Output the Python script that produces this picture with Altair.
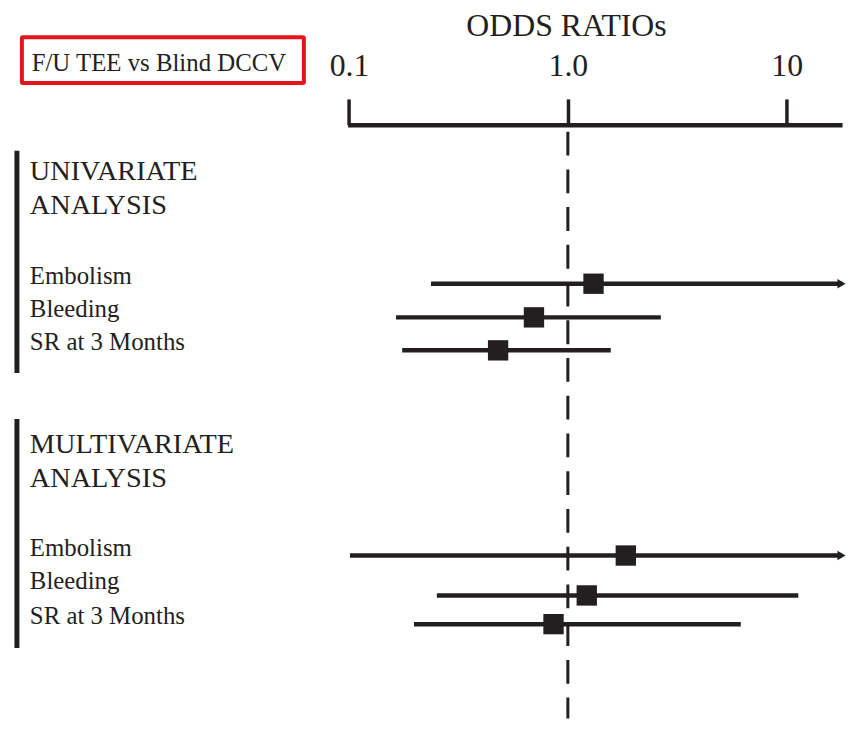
import altair as alt
import pandas as pd

# ---------------- data ----------------
outcomes = ["Embolism", "Bleeding", "SR at 3 Months", "Embolism", "Bleeding", "SR at 3 Months"]
analysis = ["Univariate"] * 3 + ["Multivariate"] * 3
odds = [1.31, 0.70, 0.48, 1.84, 1.22, 0.86]
lower = [0.237, 0.164, 0.175, 0.101, 0.252, 0.198]
upper = [17.8, 2.66, 1.57, 17.8, 11.3, 6.17]
open_upper = [True, False, False, True, False, False]
ci_rows = [4.82, 5.84, 6.84, 13.06, 14.27, 15.14]
label_rows = [4.82, 5.84, 6.84, 13.06, 14.06, 15.14]

headers = ["UNIVARIATE", "ANALYSIS", "MULTIVARIATE", "ANALYSIS"]
header_rows = [1.69, 2.70, 9.94, 10.97]
bar_start = [0.79, 8.92]
bar_end = [7.53, 15.86]

tick_values = [0.1, 1.0, 10.0]
ref_value = [1.0]
ref_span = [0.21, 18.0]
box_text = "F/U TEE vs Blind DCCV"
axis_title = "ODDS RATIOs"

# ---------------- styling ----------------
INK = "#231f20"
FONT = "Liberation Serif"
x_scale = alt.Scale(type="log", domain=[0.0985, 17.9], nice=False)
y_scale = alt.Scale(domain=[0, 18], reverse=True, nice=False, zero=False)

ci = pd.DataFrame({
    "outcome": outcomes, "analysis": analysis, "odds": odds,
    "lower": lower, "upper": upper, "open": open_upper,
    "row": ci_rows, "label_row": label_rows,
})
hdr = pd.DataFrame({"text": headers, "row": header_rows})
bars = pd.DataFrame({"start": bar_start, "end": bar_end})
ref = pd.DataFrame({"x": ref_value, "y": [ref_span[0]], "y2": [ref_span[1]]})
one = pd.DataFrame({"a": [0]})

x_axis = alt.Axis(
    orient="top", values=tick_values, title=axis_title,
    labelExpr="datum.value == 1 ? '1.0' : datum.label",
    labelFont=FONT, labelFontSize=32, labelColor=INK, labelPadding=24,
    labelBaseline="alphabetic",
    labelFlush=False, labelOverlap=False,
    tickSize=26, tickWidth=3.5, tickColor=INK,
    domainWidth=4.5, domainColor=INK,
    grid=False,
    titleFont=FONT, titleFontSize=32, titleFontWeight="normal", titleColor=INK,
    titleX=220, titleY=-90, titleAlign="center", titleBaseline="alphabetic",
)


def X(field):
    return alt.X(field, scale=x_scale, axis=x_axis, title=axis_title)


refline = alt.Chart(ref).mark_rule(color=INK, strokeWidth=3, strokeDash=[24, 14]).encode(
    x=X("x:Q"),
    y=alt.Y("y:Q", scale=y_scale, axis=None),
    y2="y2:Q",
)

ci_lines = alt.Chart(ci).mark_rule(color=INK, strokeWidth=4.5).encode(
    x=X("lower:Q"),
    x2="upper:Q",
    y=alt.Y("row:Q", scale=y_scale, axis=None),
)

arrows = alt.Chart(ci).transform_filter("datum.open").mark_point(
    shape="triangle-right", filled=True, color=INK, size=90, opacity=1
).encode(
    x=X("upper:Q"),
    y=alt.Y("row:Q", scale=y_scale, axis=None),
)

squares = alt.Chart(ci).mark_square(size=420, color=INK, opacity=1).encode(
    x=X("odds:Q"),
    y=alt.Y("row:Q", scale=y_scale, axis=None),
)

item_text = alt.Chart(ci).mark_text(
    align="left", baseline="alphabetic", font=FONT, fontSize=25, color=INK
).encode(
    x=alt.value(-320),
    y=alt.Y("label_row:Q", scale=y_scale, axis=None),
    text="outcome:N",
)

header_text = alt.Chart(hdr).mark_text(
    align="left", baseline="alphabetic", font=FONT, fontSize=28.5, color=INK
).encode(
    x=alt.value(-320),
    y=alt.Y("row:Q", scale=y_scale, axis=None),
    text="text:N",
)

side_bars = alt.Chart(bars).mark_rule(color=INK, strokeWidth=5).encode(
    x=alt.value(-333),
    y=alt.Y("start:Q", scale=y_scale, axis=None),
    y2="end:Q",
)

box = alt.Chart(one).mark_rect(
    fillOpacity=0, stroke="#e3141b", strokeWidth=4, cornerRadius=1
).encode(
    x=alt.value(-328), x2=alt.value(-44), y=alt.value(-88), y2=alt.value(-42)
)

box_label = alt.Chart(one).mark_text(
    align="center", baseline="alphabetic", font=FONT, fontSize=25, color=INK
).encode(
    x=alt.value(-190), y=alt.value(-54), text=alt.value(box_text)
)

chart = alt.layer(
    refline, ci_lines, arrows, squares, item_text, header_text, side_bars, box, box_label
).properties(
    width=498, height=598,
    autosize=alt.AutoSizeParams(type="none"),
    padding={"left": 342, "top": 115, "right": 6, "bottom": 4},
    background="white",
).configure_view(stroke=None)

chart.save("out.html", embed_options={"renderer": "svg", "actions": False})
